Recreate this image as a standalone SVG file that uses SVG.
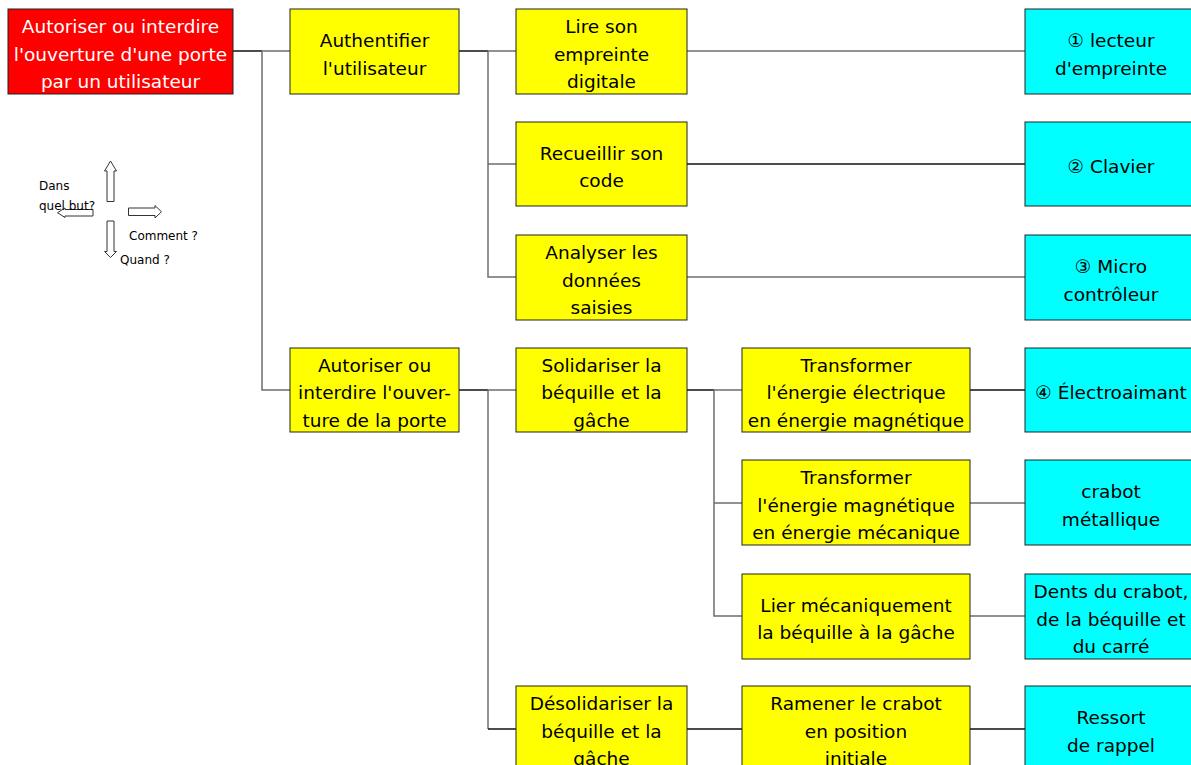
<svg xmlns="http://www.w3.org/2000/svg" width="1191" height="765" viewBox="0 0 1191 765">
<style>
text{font-family:"DejaVu Sans","Liberation Sans",sans-serif;font-size:18.5px;text-anchor:middle;fill:#000}
.red{fill:#FF0000;stroke:#222;stroke-width:1}
.yel{fill:#FFFF00;stroke:#222;stroke-width:1}
.cya{fill:#00FFFF;stroke:#222;stroke-width:1}
.w{fill:#fff}
.k{stroke:#111;stroke-width:1.5;fill:none}
.g{stroke:#6e6e6e;stroke-width:1.5;fill:none}
.leg{font-size:12px;text-anchor:start}
.arr{fill:#fff;stroke:#333;stroke-width:1}
</style>
<rect width="1191" height="765" fill="#fff"/>
<g id="connectors">
<path class="k" d="M233,51H262"/>
<path class="g" d="M262,51H290M262,51V390H290"/>
<path class="k" d="M459,51H488"/>
<path class="g" d="M488,51H516M488,51V277H516M488,164H516"/>
<path class="g" d="M687,51H1025"/>
<path class="k" d="M687,164H1025"/>
<path class="g" d="M687,277H1025"/>
<path class="k" d="M459,390H488"/>
<path class="g" d="M488,390H516M488,390V729"/>
<path class="k" d="M488,729H516"/>
<path class="k" d="M687,390H714"/>
<path class="g" d="M714,390H742M714,390V616H742M714,503H742"/>
<path class="k" d="M970,390H1025"/>
<path class="g" d="M970,503H1025M970,616H1025"/>
<path class="k" d="M687,729H742M970,729H1025"/>
</g>
<g id="legend">
<path class="arr" d="M107,201.5V171H104.5L110.5,161L116.5,171H114V201.5Z"/>
<path class="arr" d="M107,221V251.5H104.5L110.5,257.5L116.5,251.5H114V221Z"/>
<path class="arr" d="M93,209.5H65V208L57.5,212.7L65,217.5V216H93Z"/>
<path class="arr" d="M128.5,208H155V205.5L161.5,211.8L155,218V215.5H128.5Z"/>
<text class="leg" x="39" y="190">Dans</text>
<text class="leg" x="39" y="210">quel but?</text>
<text class="leg" x="129" y="240">Comment ?</text>
<text class="leg" x="120" y="264">Quand ?</text>
</g>
<g id="n1"><rect class="red" x="8" y="9" width="225" height="85"/>
<text class="w" x="120.5" y="33">Autoriser ou interdire</text><text class="w" x="120.5" y="60.5">l'ouverture d'une porte</text><text class="w" x="120.5" y="88">par un utilisateur</text></g>
<g id="n2"><rect class="yel" x="290" y="9" width="169" height="85"/>
<text x="374.5" y="47">Authentifier</text><text x="374.5" y="74.5">l'utilisateur</text></g>
<g id="n3"><rect class="yel" x="290" y="348" width="169" height="84"/>
<text x="374.5" y="371.5">Autoriser ou</text><text x="374.5" y="399">interdire l'ouver-</text><text x="374.5" y="426.5">ture de la porte</text></g>
<g id="n4"><rect class="yel" x="516" y="9" width="171" height="85"/>
<text x="601.5" y="33">Lire son</text><text x="601.5" y="60.5">empreinte</text><text x="601.5" y="88">digitale</text></g>
<g id="n5"><rect class="yel" x="516" y="122" width="171" height="84"/>
<text x="601.5" y="159.5">Recueillir son</text><text x="601.5" y="187">code</text></g>
<g id="n6"><rect class="yel" x="516" y="235" width="171" height="85"/>
<text x="601.5" y="259">Analyser les</text><text x="601.5" y="286.5">données</text><text x="601.5" y="314">saisies</text></g>
<g id="n7"><rect class="yel" x="516" y="348" width="171" height="84"/>
<text x="601.5" y="371.5">Solidariser la</text><text x="601.5" y="399">béquille et la</text><text x="601.5" y="426.5">gâche</text></g>
<g id="n8"><rect class="yel" x="516" y="686" width="171" height="85"/>
<text x="601.5" y="710">Désolidariser la</text><text x="601.5" y="737.5">béquille et la</text><text x="601.5" y="765">gâche</text></g>
<g id="n9"><rect class="yel" x="742" y="348" width="228" height="84"/>
<text x="856" y="371.5">Transformer</text><text x="856" y="399">l'énergie électrique</text><text x="856" y="426.5">en énergie magnétique</text></g>
<g id="n10"><rect class="yel" x="742" y="460" width="228" height="85"/>
<text x="856" y="484">Transformer</text><text x="856" y="511.5">l'énergie magnétique</text><text x="856" y="539">en énergie mécanique</text></g>
<g id="n11"><rect class="yel" x="742" y="574" width="228" height="85"/>
<text x="856" y="611.5">Lier mécaniquement</text><text x="856" y="639">la béquille à la gâche</text></g>
<g id="n12"><rect class="yel" x="742" y="686" width="228" height="85"/>
<text x="856" y="710">Ramener le crabot</text><text x="856" y="737.5">en position</text><text x="856" y="765">initiale</text></g>
<g id="c1"><rect class="cya" x="1025" y="9" width="172" height="85"/>
<text x="1111" y="47">① lecteur</text><text x="1111" y="74.5">d'empreinte</text></g>
<g id="c2"><rect class="cya" x="1025" y="122" width="172" height="84"/>
<text x="1111" y="173">② Clavier</text></g>
<g id="c3"><rect class="cya" x="1025" y="235" width="172" height="85"/>
<text x="1111" y="273">③ Micro</text><text x="1111" y="300.5">contrôleur</text></g>
<g id="c4"><rect class="cya" x="1025" y="348" width="172" height="84"/>
<text x="1111" y="399">④ Électroaimant</text></g>
<g id="c5"><rect class="cya" x="1025" y="460" width="172" height="85"/>
<text x="1111" y="498">crabot</text><text x="1111" y="525.5">métallique</text></g>
<g id="c6"><rect class="cya" x="1025" y="574" width="172" height="85"/>
<text x="1111" y="598">Dents du crabot,</text><text x="1111" y="625.5">de la béquille et</text><text x="1111" y="653">du carré</text></g>
<g id="c7"><rect class="cya" x="1025" y="686" width="172" height="85"/>
<text x="1111" y="724">Ressort</text><text x="1111" y="751.5">de rappel</text></g>
</svg>
